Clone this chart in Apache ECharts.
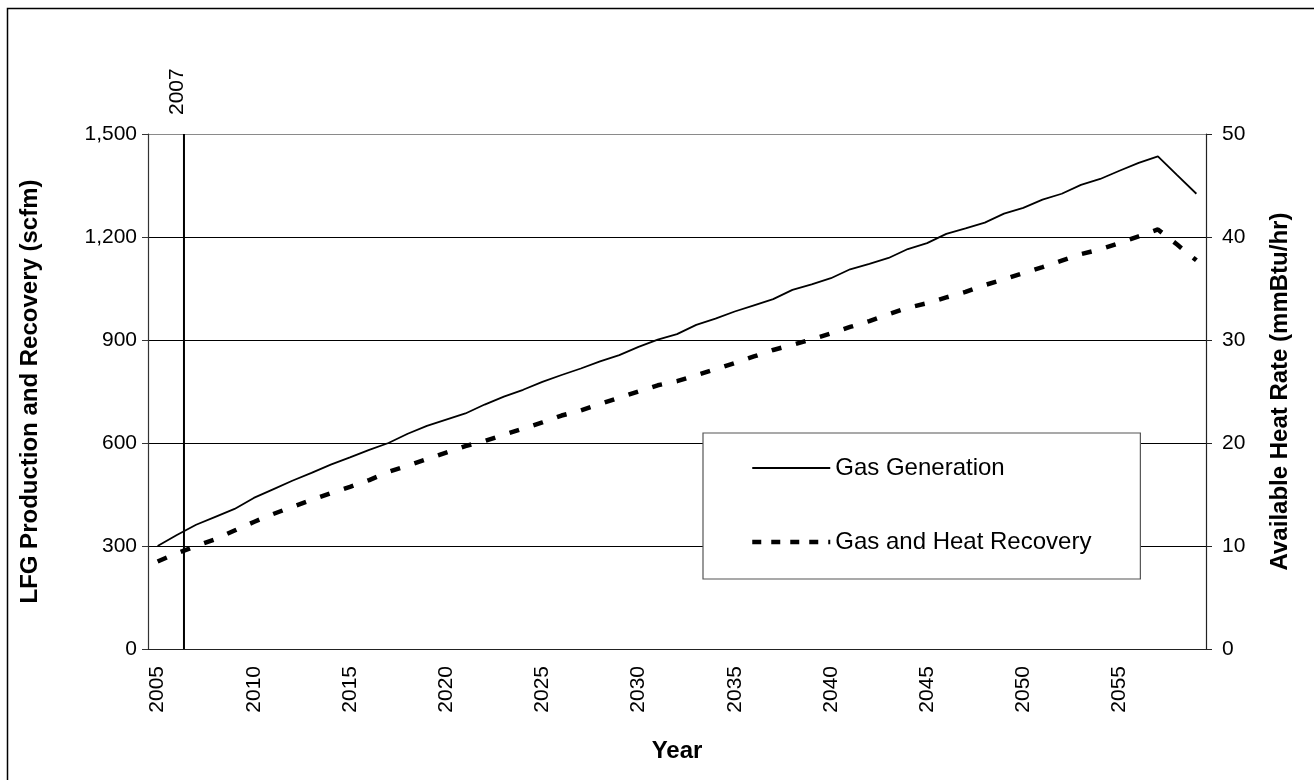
<!DOCTYPE html>
<html>
<head>
<meta charset="utf-8">
<script src="https://cdn.jsdelivr.net/npm/echarts@6/dist/echarts.min.js"></script>
<style>
html,body{margin:0;padding:0;background:#fff;}
#chart{width:1314px;height:780px;}
</style>
</head>
<body>
<div id="chart"></div>
<script>
const years = ["2005","2006","2007","2008","2009","2010","2011","2012","2013","2014","2015","2016","2017","2018","2019","2020","2021","2022","2023","2024","2025","2026","2027","2028","2029","2030","2031","2032","2033","2034","2035","2036","2037","2038","2039","2040","2041","2042","2043","2044","2045","2046","2047","2048","2049","2050","2051","2052","2053","2054","2055","2056","2057","2058","2059"];
const gasGeneration = [300,332,362,385,408,440,465,490,513,537,558,580,600,627,650,668,686,712,735,755,778,798,817,838,856,880,901,917,944,962,983,1001,1019,1046,1062,1080,1106,1122,1139,1165,1182,1209,1225,1242,1268,1285,1309,1326,1352,1369,1393,1416,1435,1380,1326];
const gasHeatRecovery = [255,279,300,320,345,370,393,414,434,454,472,492,516,534,553,572,591,606,624,642,660,680,695,714,732,750,768,780,797,815,833,852,871,886,902,919,938,955,975,994,1007,1024,1040,1060,1077,1095,1112,1131,1150,1164,1182,1202,1222,1178,1132];
const leftTicks = [0,300,600,900,1200,1500];
const rightTicks = [0,10,20,30,40,50];
const markerYear = 2007;
const markerLinePos = 2006.37;   // where the source draws the 2007 marker on the year scale
const markerLabelPos = 2006.0;   // where its label sits
const seriesNames = ["Gas Generation","Gas and Heat Recovery"];

const chart = echarts.init(document.getElementById('chart'), null, {renderer:'canvas'});
const font = 'Liberation Sans, Arial, sans-serif';
const option = {
  backgroundColor:'#fff',
  animation:false,
  textStyle:{fontFamily:font,color:'#000'},
  graphic:[{type:'rect',left:5,top:6,shape:{x:0.5,y:0.5,width:1400,height:900},style:{fill:'none',stroke:'#000',lineWidth:1.5},silent:true}],
  grid:{left:148,right:108,top:134,bottom:131,containLabel:false},
  legend:{
    data:[
      {name:seriesNames[0], lineStyle:{color:'#000',width:1.8,type:'solid'}},
      {name:seriesNames[1], lineStyle:{color:'#000',width:4.5,type:[9,10]}}
    ],
    orient:'vertical', left:703, top:433,
    padding:[23,49,25,47], itemWidth:78, itemHeight:24, itemGap:50,
    itemStyle:{opacity:0},
    backgroundColor:'#fff', borderColor:'#555', borderWidth:1.2, borderRadius:0,
    textStyle:{fontFamily:font,fontSize:24,color:'#000'}
  },
  xAxis:[{
    type:'category', data:years, boundaryGap:true,
    name:'Year', nameLocation:'middle', nameGap:90,
    nameTextStyle:{fontFamily:font,fontSize:24,fontWeight:'bold',color:'#000'},
    axisLine:{lineStyle:{color:'#222',width:1.2}},
    axisTick:{interval:4,length:6,lineStyle:{color:'#222'}},
    axisLabel:{interval:4,rotate:90,margin:17,fontFamily:font,fontSize:21,color:'#000'},
    splitLine:{show:false}
  },{
    type:'value', position:'top', min:2004.5, max:2059.5,
    axisLine:{show:false}, axisTick:{show:false}, splitLine:{show:false},
    axisLabel:{show:true,customValues:[markerLabelPos],formatter:()=>String(markerYear),rotate:90,margin:19,fontFamily:font,fontSize:21,color:'#000'}
  }],
  yAxis:[{
    type:'value', min:leftTicks[0], max:leftTicks[leftTicks.length-1], interval:leftTicks[1]-leftTicks[0],
    name:'LFG Production and Recovery (scfm)', nameLocation:'middle', nameGap:106, nameRotate:90,
    nameTextStyle:{fontFamily:font,fontSize:24,fontWeight:'bold',color:'#000'},
    axisLine:{show:true,lineStyle:{color:'#333',width:1.2}},
    axisTick:{show:true,length:6,lineStyle:{color:'#333'}},
    axisLabel:{margin:11,fontFamily:font,fontSize:21,color:'#000',formatter:v=>v.toLocaleString('en-US')},
    splitLine:{show:true,lineStyle:{color:['#000','#000','#000','#000','#000','#8a8a8a'],width:1.2}}
  },{
    type:'value', min:rightTicks[0], max:rightTicks[rightTicks.length-1], interval:rightTicks[1]-rightTicks[0],
    position:'right',
    name:'Available Heat Rate (mmBtu/hr)', nameLocation:'middle', nameGap:62, nameRotate:90,
    nameTextStyle:{fontFamily:font,fontSize:24,fontWeight:'bold',color:'#000'},
    axisLine:{show:true,lineStyle:{color:'#222',width:1.2}},
    axisTick:{show:true,length:6,lineStyle:{color:'#222'}},
    axisLabel:{margin:16,fontFamily:font,fontSize:21,color:'#000'},
    splitLine:{show:false}
  }],
  series:[{
    name:seriesNames[0], type:'line', data:gasGeneration, xAxisIndex:0, yAxisIndex:0,
    symbol:'none', lineStyle:{color:'#000',width:1.8}, itemStyle:{color:'#000'}
  },{
    name:seriesNames[1], type:'line', data:gasHeatRecovery, xAxisIndex:0, yAxisIndex:0,
    symbol:'none', lineStyle:{color:'#000',width:4.5,type:[10,15]}, itemStyle:{color:'#000'}
  },{
    name:'marker', type:'line', xAxisIndex:1, yAxisIndex:0, silent:true,
    data:[[markerLinePos,leftTicks[0]],[markerLinePos,leftTicks[leftTicks.length-1]]],
    symbol:'none', lineStyle:{color:'#000',width:2}, z:5
  }]
};
chart.setOption(option);
</script>
</body>
</html>
